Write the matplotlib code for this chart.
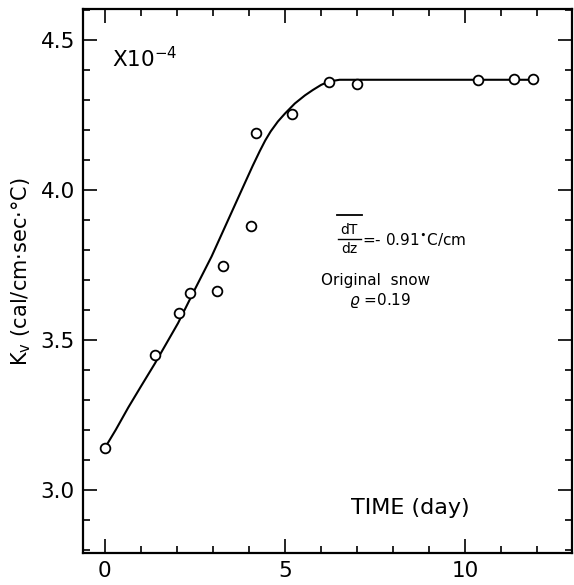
import numpy as np
import matplotlib
matplotlib.use("Agg")
import matplotlib.pyplot as plt
from matplotlib.ticker import MultipleLocator

# measured points (time in days, Kv x 1e-4)
days = [0.0, 1.39, 2.05, 2.35, 3.11, 3.28, 4.04, 4.19, 5.18, 6.21, 7.0, 10.34, 11.36, 11.87]
kv = [3.14, 3.45, 3.59, 3.656, 3.664, 3.748, 3.881, 4.191, 4.254, 4.361, 4.353, 4.367, 4.369, 4.369]

# hand-drawn fitted curve
curve_x = [0.0, 0.3, 0.65, 1.0, 1.39, 2.03, 2.49, 2.96, 3.42, 3.88, 4.1, 4.3, 4.45,
           4.6, 4.8, 5.0, 5.27, 5.55, 5.77, 6.0, 6.21, 6.51, 11.87]
curve_y = [3.14, 3.20, 3.275, 3.345, 3.422, 3.556, 3.667, 3.778, 3.90, 4.022, 4.08, 4.13, 4.165,
           4.195, 4.228, 4.255, 4.288, 4.315, 4.333, 4.35, 4.361, 4.367, 4.367]

plt.rcParams['font.family'] = ['DejaVu Sans']

fig = plt.figure(figsize=(5.74, 5.85), dpi=100)
ax = fig.add_axes([0.145, 0.0547, 0.851, 0.930])

ax.plot(curve_x, curve_y, color='black', lw=1.5)
ax.plot(days, kv, 'o', mfc='white', mec='black', mew=1.3, ms=7, ls='none')

ax.set_xlim(-0.6, 12.95)
ax.set_ylim(2.79, 4.603)
ax.set_xticks([0, 5, 10])
ax.set_yticks([3.0, 3.5, 4.0, 4.5])
ax.set_yticklabels(['3.0', '3.5', '4.0', '4.5'])
ax.xaxis.set_minor_locator(MultipleLocator(1))
ax.yaxis.set_minor_locator(MultipleLocator(0.1))
ax.tick_params(which='both', direction='in', top=True, right=True, width=1.2, labelsize=15.5)
ax.tick_params(which='major', length=10, pad=6)
ax.tick_params(which='minor', length=5)
for s in ax.spines.values():
    s.set_linewidth(1.6)

fig.text(0.037, 0.535, "K$_\\mathregular{v}$ (cal/cm·sec·°C)", rotation=90,
         ha='center', va='center', fontsize=15)

# annotations in pixel positions measured from the top-left
W, H = 574, 585
fig.text(112 / W, 1 - 67 / H, "X10$^{\\mathregular{-4}}$", ha='left', va='baseline', fontsize=15.5)
fig.text(349 / W, 1 - 230 / H, "dT", ha='center', va='center', fontsize=10)
fig.text(349 / W, 1 - 249 / H, "dz", ha='center', va='center', fontsize=10)
fig.add_artist(plt.Line2D([338 / W, 361 / W], [1 - 239 / H, 1 - 239 / H], color='black', lw=1))
fig.add_artist(plt.Line2D([337 / W, 362 / W], [1 - 215 / H, 1 - 215 / H], color='black', lw=1.3))
fig.text(362 / W, 1 - 240 / H, "=- 0.91$^{\\bullet}$C/cm", ha='left', va='center', fontsize=11)
fig.text(376 / W, 1 - 280 / H, "Original  snow", ha='center', va='center', fontsize=11)
fig.text(380 / W, 1 - 300 / H, "$\\varrho$ =0.19", ha='center', va='center', fontsize=11)

fig.text(470 / W, 1 - 508 / H, "TIME (day)", ha='right', va='center', fontsize=16)

fig.savefig("out.png", dpi=100)
